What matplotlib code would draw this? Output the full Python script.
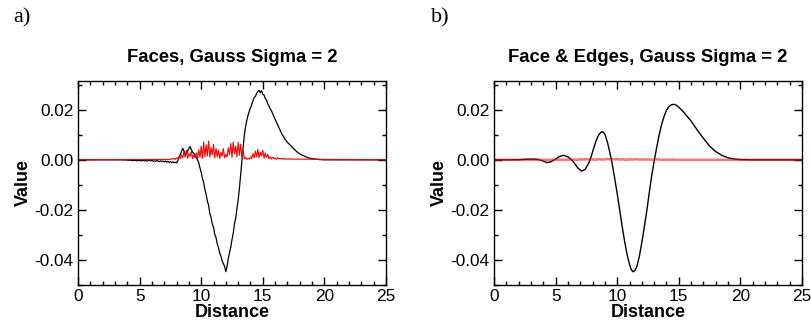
import numpy as np
import matplotlib
matplotlib.use("Agg")
import matplotlib.pyplot as plt
from matplotlib.ticker import MultipleLocator, FormatStrFormatter

plt.rcParams['font.family'] = ['Liberation Sans', 'DejaVu Sans']
plt.rcParams['axes.unicode_minus'] = False

# ── Panel a) Faces ───────────────────────────────────────────────────────────
# black: sampled every 0.1 from 3.5 to 20.0, values in units of 1e-3
faces_black_x0, faces_black_dx = 3.5, 0.1
faces_black = [
    0, 0, -0.1, 0, -0.1,
    -0.1, -0.2, -0.1, -0.2, -0.3, -0.2, -0.3, -0.2, -0.4, -0.3,
    -0.2, -0.4, -0.3, -0.2, -0.4, -0.3, -0.5, -0.3, -0.2, -0.4,
    -0.3, -0.5, -0.4, -0.6, -0.3, -0.5, -0.7, -0.4, -0.6, -0.5,
    -0.8, -0.5, -0.9, -0.6, -1.0, -0.7, -1.1, -0.8, -1.2, -0.9,
    -1.2, -0.4, 0.8, 2.1, 3.4, 4.6, 3.5, 2.7, 2.2, 3.6,
    4.5, 5.3, 4.0, 3.1, 2.5, 1.8, 1.0, 0.0, -1.2, -3.2,
    -5.0, -7.4, -9.0, -11.9, -13.8, -16.5, -18.2, -21.4, -23.0, -25.6,
    -27.0, -29.8, -31.0, -33.6, -35.0, -37.3, -38.5, -40.3, -41.5, -42.5,
    -44.7, -42.5, -39.4, -37.0, -34.9, -31.8, -29.4, -25.5, -23.4, -19.5,
    -16.0, -11.5, -6.0, -0.5, 4.8, 9.8, 13.2, 15.8, 17.8, 19.4,
    20.8, 22.2, 23.6, 24.9, 25.4, 26.5, 27.3, 27.8, 26.8, 27.6,
    26.2, 25.9, 24.5, 23.9, 22.4, 21.6, 20.4, 19.6, 18.4, 17.3,
    16.2, 15.0, 13.9, 12.8, 11.8, 10.8, 9.9, 9.1, 8.3, 7.6,
    7.0, 6.5, 6.0, 5.5, 5.0, 4.5, 4.0, 3.5, 3.1, 2.7,
    2.4, 2.1, 1.9, 1.7, 1.4, 1.2, 1.0, 0.8, 0.7, 0.6,
    0.5, 0.4, 0.3, 0.3, 0.2, 0.2, 0.1, 0.1, 0.1, 0.0,
    0.0,
]

# red: sampled every 0.1 from 7.5 to 17.4, values in units of 1e-4
faces_red_x0, faces_red_dx = 7.5, 0.1
faces_red = [
    2, 4, 3, 6, 2, 8, 4, 12, 5, 20,
    8, 32, 10, 38, 6, 24, 14, 35, 5, 20,
    8, 28, 4, 40, 10, 55, 6, 72, 12, 60,
    15, 75, 10, 50, 20, 62, 8, 45, 12, 38,
    5, 30, 15, 45, 8, 22, 12, 48, 20, 65,
    10, 72, 25, 55, 12, 70, 18, 62, 10, 40,
    4, 10, 2, 6, 3, 12, 5, 25, 8, 35,
    12, 42, 8, 30, 15, 38, 6, 28, 10, 22,
    4, 12, 3, 10, 5, 8, 2, 9, 4, 6,
    3, 5, 2, 6, 2, 4, 3, 5, 2, 3,
]

# ── Panel b) Face & Edges ────────────────────────────────────────────────────
edges_black_x = [0, 1.0, 2.0, 2.5, 3.0, 3.5, 3.9, 4.3, 4.6, 5.0, 5.3, 5.65, 6.0,
                 6.4, 6.8, 7.1, 7.4, 7.7, 7.9, 8.1, 8.3, 8.5, 8.7, 8.85, 9.0,
                 9.2, 9.4, 9.6, 9.8, 10.0, 10.2, 10.4, 10.6, 10.8, 11.0, 11.15,
                 11.3, 11.45, 11.6, 11.8, 12.0, 12.2, 12.4, 12.6, 12.8, 13.0,
                 13.2, 13.4, 13.6, 13.8, 14.0, 14.2, 14.4, 14.6, 14.8, 15.0,
                 15.3, 15.6, 16.0, 16.5, 17.0, 17.5, 18.0, 18.5, 19.0, 19.5,
                 20.0, 21.0, 25.0]
edges_black = [0, 0, 0.05, 0.2, 0.3, 0.2, -0.3, -1.1, -0.8, 0.3, 1.3, 1.8, 1.2,
               -0.5, -3.2, -4.5, -3.8, -1.2, 1.5, 4.8, 7.8, 10.0, 11.1, 11.2, 10.2,
               7.2, 3.0, -1.8, -7.5, -13.5, -20.0, -26.5, -32.5, -37.8, -41.8, -44.0,
               -44.7, -44.2, -42.5, -38.5, -33.0, -26.8, -20.5, -13.2, -6.3, -0.5,
               4.8, 9.8, 14.0, 17.3, 19.8, 21.3, 22.0, 22.2, 21.8, 21.0,
               19.6, 17.8, 15.5, 11.9, 8.6, 5.5, 3.3, 1.8, 0.8, 0.3,
               0.1, 0, 0]

# red: sampled every 0.25 from 5.0 to 14.75, values in units of 1e-4
edges_red_x0, edges_red_dx = 5.0, 0.25
edges_red = [0, 1, 0, 1, 0, 2, 1, 0, 2, 1, 3, 1, 2, 0, 3, 1, 2, 4, 1, 2,
             3, 1, 2, 0, 2, 1, 3, 1, 2, 1, 2, 0, 1, 2, 1, 0, 1, 0, 1, 0]


def seg(x0, dx, vals, scale):
    x = x0 + dx * np.arange(len(vals))
    y = np.asarray(vals) * scale
    # flat zero baseline outside the sampled range
    return np.r_[0.0, x, 25.0], np.r_[0.0, y, 0.0]


def style_axes(ax, title):
    ax.set_xlim(0, 25)
    ax.set_ylim(-0.05, 0.0315)
    ax.xaxis.set_major_locator(MultipleLocator(5))
    ax.xaxis.set_minor_locator(MultipleLocator(1))
    ax.yaxis.set_major_locator(MultipleLocator(0.02))
    ax.yaxis.set_minor_locator(MultipleLocator(0.01))
    ax.yaxis.set_major_formatter(FormatStrFormatter('%.2f'))
    ax.tick_params(which='both', direction='in', top=True, right=True, width=1.0)
    ax.tick_params(which='major', length=5.5, labelsize=12.4, pad=3)
    ax.tick_params(which='minor', length=3)
    for s in ax.spines.values():
        s.set_linewidth(1.0)
    ax.set_title(title, fontsize=13.3, fontweight='bold', pad=14)
    ax.set_xlabel('Distance', fontsize=13, fontweight='bold', labelpad=0)
    ax.set_ylabel('Value', fontsize=13, fontweight='bold', labelpad=2)


fig = plt.figure(figsize=(8.12, 3.24), dpi=100)
W, H = 812, 324
ax1 = fig.add_axes([78 / W, (H - 285) / H, 308 / W, 204 / H])
ax2 = fig.add_axes([494 / W, (H - 285) / H, 308 / W, 204 / H])

x, y = seg(faces_black_x0, faces_black_dx, faces_black, 1e-3)
ax1.plot(x, y, color='black', lw=0.9)
x, y = seg(faces_red_x0, faces_red_dx, faces_red, 1e-4)
ax1.plot(x, y, color='red', lw=0.8)
style_axes(ax1, 'Faces, Gauss Sigma = 2')

ax2.plot(edges_black_x, np.asarray(edges_black) * 1e-3, color='black', lw=1.0)
x, y = seg(edges_red_x0, edges_red_dx, edges_red, 1e-4)
ax2.plot(x, y, color='red', lw=1.8, alpha=0.55)
style_axes(ax2, 'Face & Edges, Gauss Sigma = 2')

fig.text(13 / W, 1 - 8 / H, 'a)', family=['Liberation Serif', 'DejaVu Serif'],
         fontsize=16, va='top', ha='left')
fig.text(431 / W, 1 - 8 / H, 'b)', family=['Liberation Serif', 'DejaVu Serif'],
         fontsize=16, va='top', ha='left')

fig.savefig('out.png', dpi=100)
